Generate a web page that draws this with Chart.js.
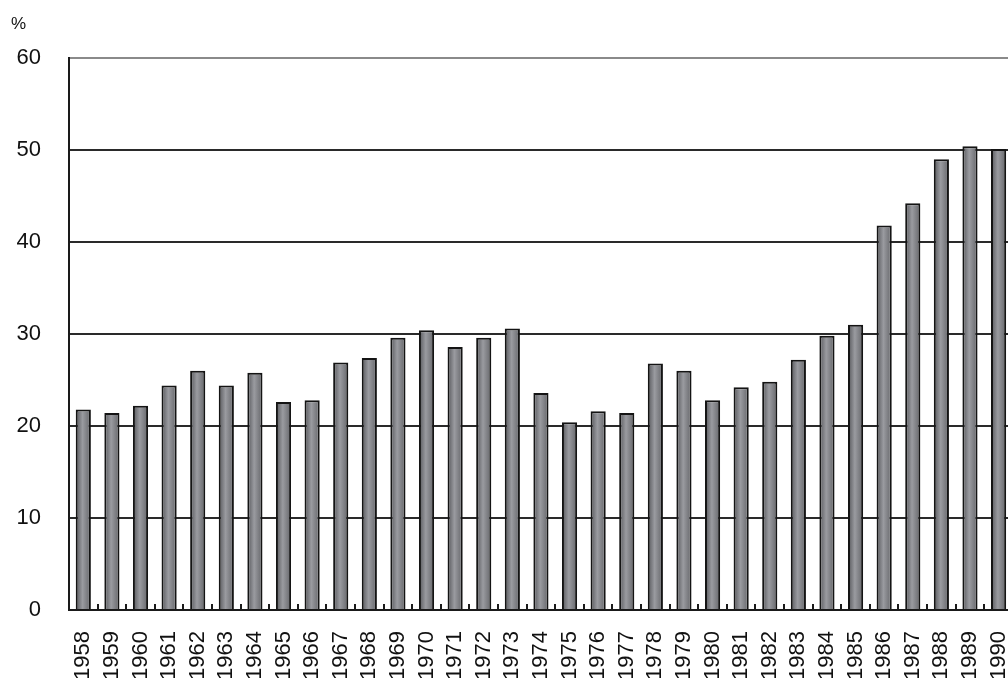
<!DOCTYPE html>
<html>
<head>
<meta charset="utf-8">
<script src="https://cdn.jsdelivr.net/npm/chart.js@4.4.0/dist/chart.umd.min.js"></script>
<style>
    html, body { margin: 0; padding: 0; background: #fff; overflow: hidden; }
    #wrap { position: relative; width: 1008px; height: 678px; overflow: hidden; }
    #box { position: absolute; left: 0; top: 0; width: 1038px; height: 678px; }
    #unit { position: absolute; left: 11px; top: 14px; font: 17px "Liberation Sans", Arial, sans-serif; color: #111; }
</style>
</head>
<body>
<div id="wrap">
    <div id="box"><canvas id="chart"></canvas></div>
    <div id="unit">%</div>
</div>
<script>
var years = ['1958', '1959', '1960', '1961', '1962', '1963', '1964', '1965', '1966', '1967',
    '1968', '1969', '1970', '1971', '1972', '1973', '1974', '1975', '1976', '1977',
    '1978', '1979', '1980', '1981', '1982', '1983', '1984', '1985', '1986', '1987',
    '1988', '1989', '1990'];
var shares = [21.8, 21.4, 22.2, 24.4, 26.0, 24.4, 25.8, 22.6, 22.8, 26.9,
    27.4, 29.6, 30.4, 28.6, 29.6, 30.6, 23.6, 20.4, 21.6, 21.4,
    26.8, 26.0, 22.8, 24.2, 24.8, 27.2, 29.8, 31.0, 41.8, 44.2,
    49.0, 50.4, 50.1];
var yTicks = [0, 10, 20, 30, 40, 50, 60];

var barPct = 0.53;

// shaded fill, darker at the edges like a cylinder
function barFill(context) {
    var chart = context.chart;
    var xs = chart.scales.x;
    if (!xs || !xs.width) return '#808185';
    var cx = xs.getPixelForValue(context.dataIndex);
    var half = xs.width / years.length * barPct / 2;
    var g = chart.ctx.createLinearGradient(cx - half, 0, cx + half, 0);
    g.addColorStop(0, '#55565a');
    g.addColorStop(0.45, '#9a9ba0');
    g.addColorStop(1, '#646569');
    return g;
}

// little ticks standing up from the x axis between the bars
var innerTicks = {
    id: 'innerTicks',
    afterDatasetsDraw: function(chart) {
        var xs = chart.scales.x;
        var ctx = chart.ctx;
        var bottom = chart.chartArea.bottom;
        var step = xs.width / years.length;
        ctx.save();
        ctx.strokeStyle = '#1a1a1a';
        ctx.lineWidth = 2;
        for (var i = 0; i < years.length - 1; i++) {
            var x = Math.round(xs.getPixelForValue(i) + step / 2);
            ctx.beginPath();
            ctx.moveTo(x, bottom - 6);
            ctx.lineTo(x, bottom);
            ctx.stroke();
        }
        ctx.restore();
    }
};

new Chart(document.getElementById('chart'), {
    type: 'bar',
    data: {
        labels: years,
        datasets: [{
            data: shares,
            backgroundColor: barFill,
            borderColor: '#141414',
            borderWidth: 2,
            borderSkipped: 'bottom',
            barPercentage: barPct,
            categoryPercentage: 1
        }]
    },
    options: {
        responsive: true,
        maintainAspectRatio: false,
        animation: false,
        layout: { padding: { top: 58, right: 1, bottom: 0, left: 0 } },
        plugins: {
            legend: { display: false },
            tooltip: { enabled: false }
        },
        scales: {
            x: {
                grid: { display: false },
                border: { display: true, color: '#1a1a1a', width: 2 },
                ticks: {
                    color: '#111',
                    font: { family: '"Liberation Sans", Arial, sans-serif', size: 22 },
                    minRotation: 90,
                    maxRotation: 90,
                    autoSkip: false,
                    padding: 13
                },
                afterFit: function(scale) { scale.height = 68; }
            },
            y: {
                min: 0,
                max: 60,
                afterBuildTicks: function(scale) {
                    scale.ticks = yTicks.map(function(v) { return { value: v }; });
                },
                grid: {
                    drawTicks: false,
                    lineWidth: 2,
                    color: function(c) { return c.tick && c.tick.value === 60 ? '#8a8a8a' : '#2a2a2a'; }
                },
                border: { display: true, color: '#1a1a1a', width: 2 },
                ticks: {
                    color: '#111',
                    font: { family: '"Liberation Sans", Arial, sans-serif', size: 22 },
                    padding: 28
                },
                afterFit: function(scale) { scale.width = 69; }
            }
        }
    },
    plugins: [innerTicks]
});
</script>
</body>
</html>
